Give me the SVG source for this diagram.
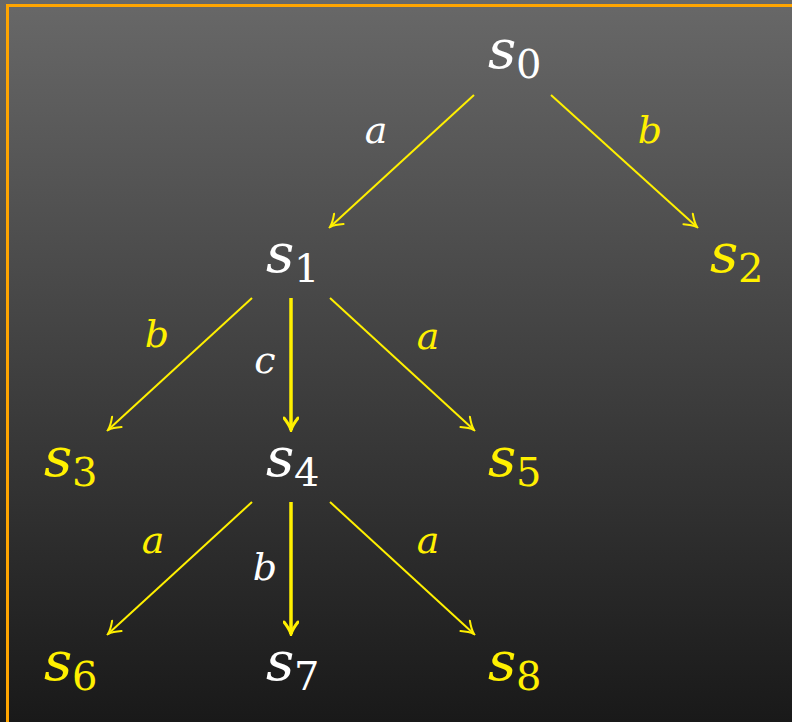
<svg xmlns="http://www.w3.org/2000/svg" width="792" height="722" viewBox="0 0 792 722">
<defs>
<linearGradient id="bg" x1="0" y1="0" x2="0" y2="1">
<stop offset="0" stop-color="#686868"/>
<stop offset="1" stop-color="#191919"/>
</linearGradient>
<marker id="ah" viewBox="-14 -8 16 16" markerWidth="16" markerHeight="16" refX="0" refY="0" orient="auto" markerUnits="userSpaceOnUse">
<path d="M-12,-7 Q-5,-1.5 0,0 Q-5,1.5 -12,7" fill="none" stroke="#fff000" stroke-width="2" stroke-linecap="round"/>
</marker>
<marker id="aht" viewBox="-14 -8 16 16" markerWidth="16" markerHeight="16" refX="0" refY="0" orient="auto" markerUnits="userSpaceOnUse">
<path d="M-12,-7 Q-5,-1.5 0,0 Q-5,1.5 -12,7" fill="none" stroke="#fff000" stroke-width="3" stroke-linecap="round"/>
</marker>
<style>
.n{font-family:"DejaVu Serif",serif;font-style:italic;font-size:55px}
.sub{font-style:normal;font-size:40px}
.w{fill:#ffffff}
.y{fill:#fff000}
.l{font-family:"DejaVu Serif",serif;font-style:italic;font-size:38px;text-anchor:middle}
.e{stroke:#fff000;stroke-width:2;fill:none;marker-end:url(#ah)}
.t{stroke-width:3.5;marker-end:url(#aht)}
</style>
</defs>
<rect x="0" y="0" width="792" height="722" fill="url(#bg)"/>
<rect x="7.5" y="5.5" width="800" height="800" fill="none" stroke="#ffa500" stroke-width="3"/>
<g id="connectors">
<line class="e" x1="474" y1="95" x2="330" y2="227"/>
<line class="e" x1="551" y1="95" x2="697" y2="227"/>
<line class="e" x1="252" y1="298" x2="108" y2="430"/>
<line class="e t" x1="291" y1="298" x2="291" y2="430"/>
<line class="e" x1="330" y1="298" x2="474" y2="430"/>
<line class="e" x1="252" y1="502" x2="108" y2="634"/>
<line class="e t" x1="291" y1="502" x2="291" y2="634"/>
<line class="e" x1="330" y1="502" x2="474" y2="634"/>
<text class="l w" x="376" y="143">a</text>
<text class="l y" x="650" y="143">b</text>
<text class="l y" x="157" y="347">b</text>
<text class="l w" x="265" y="373">c</text>
<text class="l y" x="428" y="349">a</text>
<text class="l y" x="153" y="553">a</text>
<text class="l w" x="265" y="580">b</text>
<text class="l y" x="428" y="553">a</text>
</g>
<g id="s0"><text class="n w" x="488" y="68">s<tspan class="sub" x="516" y="78">0</tspan></text></g>
<g id="s1"><text class="n w" x="266" y="272">s<tspan class="sub" x="294" y="282">1</tspan></text></g>
<g id="s2"><text class="n y" x="710" y="272">s<tspan class="sub" x="738" y="282">2</tspan></text></g>
<g id="s3"><text class="n y" x="44" y="476">s<tspan class="sub" x="72" y="486">3</tspan></text></g>
<g id="s4"><text class="n w" x="266" y="476">s<tspan class="sub" x="294" y="486">4</tspan></text></g>
<g id="s5"><text class="n y" x="488" y="476">s<tspan class="sub" x="516" y="486">5</tspan></text></g>
<g id="s6"><text class="n y" x="44" y="680">s<tspan class="sub" x="72" y="690">6</tspan></text></g>
<g id="s7"><text class="n w" x="266" y="680">s<tspan class="sub" x="294" y="690">7</tspan></text></g>
<g id="s8"><text class="n y" x="488" y="680">s<tspan class="sub" x="516" y="690">8</tspan></text></g>
</svg>
